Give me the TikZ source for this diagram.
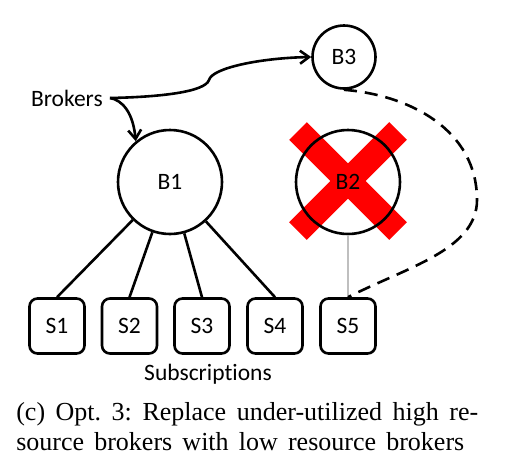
\documentclass[tikz,border=0pt]{standalone}
\usepackage{fontspec}
\setmainfont{Liberation Serif}
\newfontfamily\diafont[Ligatures=NoCommon]{Carlito}
\usetikzlibrary{arrows.meta}
\begin{document}
\frenchspacing
\begin{tikzpicture}[x=1pt,y=-1pt,line width=2.6pt,
  dfont/.style={font=\diafont\fontsize{23.5}{28}\selectfont},
  broker/.style={circle,draw,dfont,inner sep=0pt},
  subbox/.style={draw,rounded corners=8pt,minimum width=55pt,minimum height=55pt,dfont,inner sep=0pt},
  arr/.style={-{Straight Barb[length=9pt,width=13pt]},line width=2.6pt},
  link/.style={line width=2.6pt},
  dlink/.style={line width=2.6pt,dash pattern=on 13pt off 8pt},
  glink/.style={line width=2.2pt,draw=black!25},
  cross/.style={line width=25pt,draw=red},
  capt/.style={font=\fontsize{26}{31}\selectfont,inner sep=0pt}]
\useasboundingbox (0,0) rectangle (524,469);

% red cross
\draw[cross] (298,131) -- (398,231);
\draw[cross] (398,131) -- (298,231);

% brokers
\node[broker,minimum size=104pt,fill=white] (B1) at (170,182) {B1};
\node[broker,minimum size=104pt] (B2) at (348,182) {B2};
\node[broker,minimum size=63pt,fill=white] (B3) at (344,57) {B3};

% subscriptions
\node[subbox] (S1) at (57,326) {S1};
\node[subbox] (S2) at (129.5,326) {S2};
\node[subbox] (S3) at (202,326) {S3};
\node[subbox] (S4) at (275,326) {S4};
\node[subbox] (S5) at (348,326) {S5};

% labels
\node[dfont,anchor=base east,inner sep=0pt] (brk) at (104,106.5) {Brokers};
\coordinate (bs) at (110,98);
\node[dfont,anchor=base,inner sep=0pt] (subs) at (208,380) {Subscriptions};

% connectors
\draw[link] (B1) -- (S1.north);
\draw[link] (B1) -- (S2.north);
\draw[link] (B1) -- (S3.north);
\draw[link] (B1) -- (S4.north);
\draw[glink] (B2.south) -- (S5.north);
\draw[dlink] (B3.south) .. controls (410,95) and (477,130) .. (477,200)
  .. controls (477,250) and (405,268) .. (S5.north);
\draw[arr] (bs) .. controls (160,97) and (205,92) .. (209,80)
  .. controls (212,68) and (260,58) .. (B3.west);
\draw[arr] (bs) .. controls (122,100) and (133,112) .. (B1.130);

% caption
\node[capt,anchor=base west] (c1) at (15,420) {\makebox[462pt][s]{(c) Opt. 3: Replace under-utilized high re-}};
\node[capt,anchor=base west] (c2) at (15,450) {\makebox[448pt][s]{source brokers with low resource brokers}};
\end{tikzpicture}
\end{document}
